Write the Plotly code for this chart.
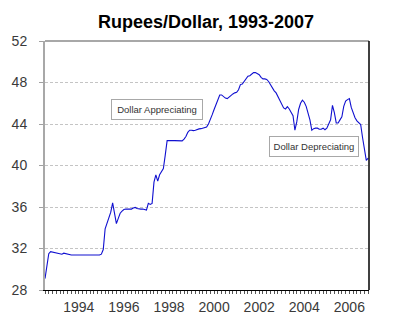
import plotly.graph_objects as go

# Monthly Rupees per US Dollar, Jan 1993 - May 2007
r1993 = [29.1, 30.6, 31.5, 31.7, 31.65, 31.6, 31.55, 31.5, 31.45, 31.45, 31.55, 31.5]
r1994 = [31.4, 31.38, 31.37, 31.37, 31.37, 31.37, 31.37, 31.37, 31.37, 31.37, 31.37, 31.37]
r1995 = [31.37, 31.37, 31.37, 31.37, 31.37, 31.37, 31.45, 31.9, 33.9, 34.5, 35.0, 35.5]
r1996 = [36.4, 35.3, 34.4, 34.9, 35.4, 35.6, 35.75, 35.8, 35.8, 35.85, 35.8, 35.9]
r1997 = [35.96, 35.85, 35.8, 35.8, 35.8, 35.75, 35.7, 36.35, 36.25, 36.35, 38.4, 39.1]
r1998 = [38.5, 39.1, 39.4, 39.7, 41.0, 42.4, 42.4, 42.37, 42.4, 42.4, 42.4, 42.38]
r1999 = [42.37, 42.37, 42.55, 42.8, 43.2, 43.4, 43.4, 43.36, 43.4, 43.5, 43.53, 43.55]
r2000 = [43.6, 43.6, 43.7, 44.0, 44.4, 44.9, 45.4, 45.9, 46.3, 46.8, 46.8, 46.6]
r2001 = [46.5, 46.45, 46.6, 46.8, 46.9, 47.0, 47.05, 47.3, 47.8, 47.85, 48.1, 48.35]
r2002 = [48.6, 48.65, 48.8, 48.95, 48.95, 48.85, 48.75, 48.5, 48.35, 48.35, 48.3, 48.1]
r2003 = [47.8, 47.45, 47.2, 47.0, 46.6, 46.2, 45.85, 45.55, 45.45, 45.68, 45.45, 45.1]
r2004 = [44.8, 43.4, 44.2, 45.4, 46.0, 46.3, 46.1, 45.7, 45.1, 44.4, 43.4, 43.55]
r2005 = [43.6, 43.6, 43.5, 43.5, 43.6, 43.45, 43.6, 44.0, 44.4, 45.8, 45.1, 44.1]
r2006 = [44.1, 44.4, 44.7, 45.7, 46.2, 46.35, 46.45, 45.6, 45.0, 44.6, 44.3, 44.1]
r2007 = [43.95, 42.7, 41.4, 40.5, 40.7]

start_year = 1993
rates = (r1993 + r1994 + r1995 + r1996 + r1997 + r1998 + r1999 + r2000
         + r2001 + r2002 + r2003 + r2004 + r2005 + r2006 + r2007)
times = [start_year + i / 12 for i in range(len(rates))]

tick_years = ["1994", "1996", "1998", "2000", "2002", "2004", "2006"]
tick_pos = [int(y) + 0.5 for y in tick_years]
y_ticks = [28, 32, 36, 40, 44, 48, 52]

title_text = "Rupees/Dollar, 1993-2007"
note_up = "Dollar Appreciating"
note_down = "Dollar Depreciating"

fig = go.Figure()
fig.add_trace(go.Scatter(
    x=times, y=rates, mode="lines",
    line=dict(color="#1010d0", width=1.1),
    hoverinfo="skip", showlegend=False,
))

fig.update_layout(
    width=400, height=331,
    margin=dict(l=36, r=31, t=41, b=41),
    paper_bgcolor="white", plot_bgcolor="white",
    title=dict(text=title_text, x=0.515, xanchor="center", y=0.935, yanchor="middle",
               font=dict(family="Liberation Sans, Arial", size=18, color="black", weight="bold")),
    font=dict(family="Liberation Sans, Arial", color="#333333"),
    xaxis=dict(
        range=[1993, 2007.37], showgrid=False, zeroline=False,
        showline=True, linecolor="black", linewidth=1,
        tickmode="array", tickvals=tick_pos, ticktext=tick_years,
        ticks="outside", ticklen=3, tickcolor="#555555", tickwidth=1,
        tickfont=dict(size=14, color="#3a3a3a"),
        minor=dict(tickmode="linear", tick0=1993, dtick=1 / 6,
                   ticks="outside", ticklen=3, tickcolor="#555555", tickwidth=1, showgrid=False),
        ticklabelstandoff=1,
    ),
    yaxis=dict(
        range=[28, 52], zeroline=False,
        showline=True, linecolor="#a8a8a8", linewidth=2,
        tickmode="array", tickvals=y_ticks,
        ticks="outside", ticklen=4, tickcolor="#a0a0a0",
        tickfont=dict(size=14, color="#3a3a3a"),
        showgrid=True, gridcolor="#c4c4c4", gridwidth=1, griddash="3px,2px",
        ticklabelstandoff=9,
    ),
    shapes=[
        dict(type="line", xref="paper", yref="paper", x0=0, x1=1, y0=1, y1=1,
             line=dict(color="#a8a8a8", width=2)),
        dict(type="line", xref="paper", yref="paper", x0=1, x1=1, y0=0, y1=1,
             line=dict(color="black", width=1.5)),
    ],
    annotations=[
        dict(text=note_up, x=1997.95, y=45.36, xref="x", yref="y", showarrow=False,
             font=dict(size=9.5, color="#333333"), bgcolor="white",
             bordercolor="#a8a8a8", borderwidth=1, borderpad=1, width=88, height=17),
        dict(text=note_down, x=2004.94, y=41.82, xref="x", yref="y", showarrow=False,
             font=dict(size=9.5, color="#333333"), bgcolor="white",
             bordercolor="#a8a8a8", borderwidth=1, borderpad=1, width=86, height=17),
    ],
)

fig.write_html("out.html")
